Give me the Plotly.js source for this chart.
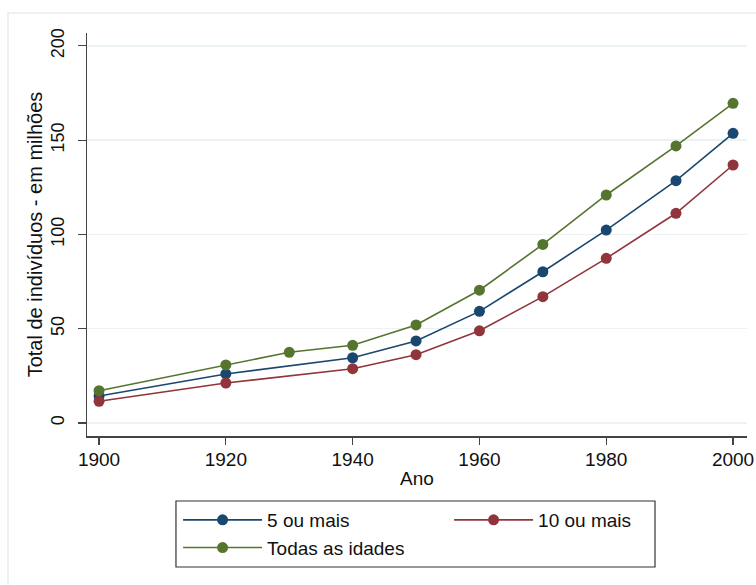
<!DOCTYPE html>
<html>
<head>
<meta charset="utf-8">
<script src="https://cdn.plot.ly/plotly-3.0.1.min.js"></script>
<style>html,body{margin:0;padding:0;background:#fff;}#chart{width:756px;height:585px;}</style>
</head>
<body>
<div id="chart"></div>
<script>
// Data (values in millions)
const anosTodas = [1900, 1920, 1930, 1940, 1950, 1960, 1970, 1980, 1991, 2000];
const todasIdades = [17.1, 30.8, 37.5, 41.2, 52.0, 70.4, 94.7, 120.9, 146.9, 169.5];

const anos = [1900, 1920, 1940, 1950, 1960, 1970, 1980, 1991, 2000];
const cincoOuMais = [14.3, 26.0, 34.6, 43.5, 59.2, 80.2, 102.3, 128.5, 153.6];
const dezOuMais = [11.5, 21.2, 28.8, 36.2, 48.9, 67.0, 87.3, 111.2, 136.8];

const nomes = ["5 ou mais", "10 ou mais", "Todas as idades"];
const cores = ["#1a476f", "#90353b", "#55752f"];
const yTicks = [0, 50, 100, 150, 200];
const xTicks = [1900, 1920, 1940, 1960, 1980, 2000];

function serie(x, y, i) {
  return {
    x: x, y: y, name: nomes[i], type: "scatter", mode: "lines+markers",
    line: {color: cores[i], width: 1.6},
    marker: {color: cores[i], size: 11}
  };
}

const traces = [
  serie(anos, cincoOuMais, 0),
  serie(anos, dezOuMais, 1),
  serie(anosTodas, todasIdades, 2)
];

const font = "Liberation Sans, Arial, sans-serif";

const layout = {
  width: 756, height: 585,
  margin: {l: 87, r: 9, t: 33, b: 149, autoexpand: false},
  paper_bgcolor: "#ffffff", plot_bgcolor: "#ffffff",
  font: {family: font, size: 18, color: "#111"},
  xaxis: {
    range: [1898.1, 2002.2],
    tickvals: xTicks, ticktext: xTicks.map(String),
    showgrid: false, zeroline: false,
    showline: true, linecolor: "#444", linewidth: 1.5,
    ticks: "outside", ticklen: 7, tickwidth: 1.2, tickcolor: "#444",
    ticklabelstandoff: -1,
    tickfont: {family: font, size: 19, color: "#111"},
    title: {text: "Ano", font: {family: font, size: 19, color: "#111"}, standoff: 2}
  },
  yaxis: {
    range: [-6.9, 206.8],
    tickvals: yTicks, ticktext: yTicks.map(String),
    tickangle: -90,
    showgrid: true, gridcolor: "#eaf2f3", gridwidth: 1.5,
    zeroline: false,
    showline: true, linecolor: "#444", linewidth: 1.5,
    ticks: "outside", ticklen: 8, tickwidth: 1.2, tickcolor: "#444",
    ticklabelstandoff: 6,
    tickfont: {family: font, size: 18, color: "#111"},
    title: {text: "Total de indivíduos - em milhões", font: {family: font, size: 20, color: "#111"}, standoff: 0}
  },
  showlegend: true,
  legend: {
    orientation: "h",
    x: 0.138, xanchor: "left",
    y: -0.1613, yanchor: "top",
    borderwidth: 0,
    bgcolor: "rgba(0,0,0,0)",
    font: {family: font, size: 19, color: "#111"},
    entrywidth: 177, entrywidthmode: "pixels",
    itemwidth: 79,
    tracegroupgap: 0
  },
  shapes: [{
    type: "rect", xref: "paper", yref: "paper",
    x0: -0.1197, x1: 2, y0: -2, y1: 1.0496,
    line: {color: "#e6eded", width: 1.5}, fillcolor: "rgba(0,0,0,0)", layer: "below"
  }, {
    type: "rect", xref: "paper", yref: "paper",
    x0: 0.1348, x1: 0.8606, y0: -0.3251, y1: -0.1613,
    line: {color: "#333", width: 1.2}, fillcolor: "rgba(0,0,0,0)", layer: "above"
  }]
};

Plotly.newPlot("chart", traces, layout, {displayModeBar: false, staticPlot: true});
</script>
</body>
</html>
